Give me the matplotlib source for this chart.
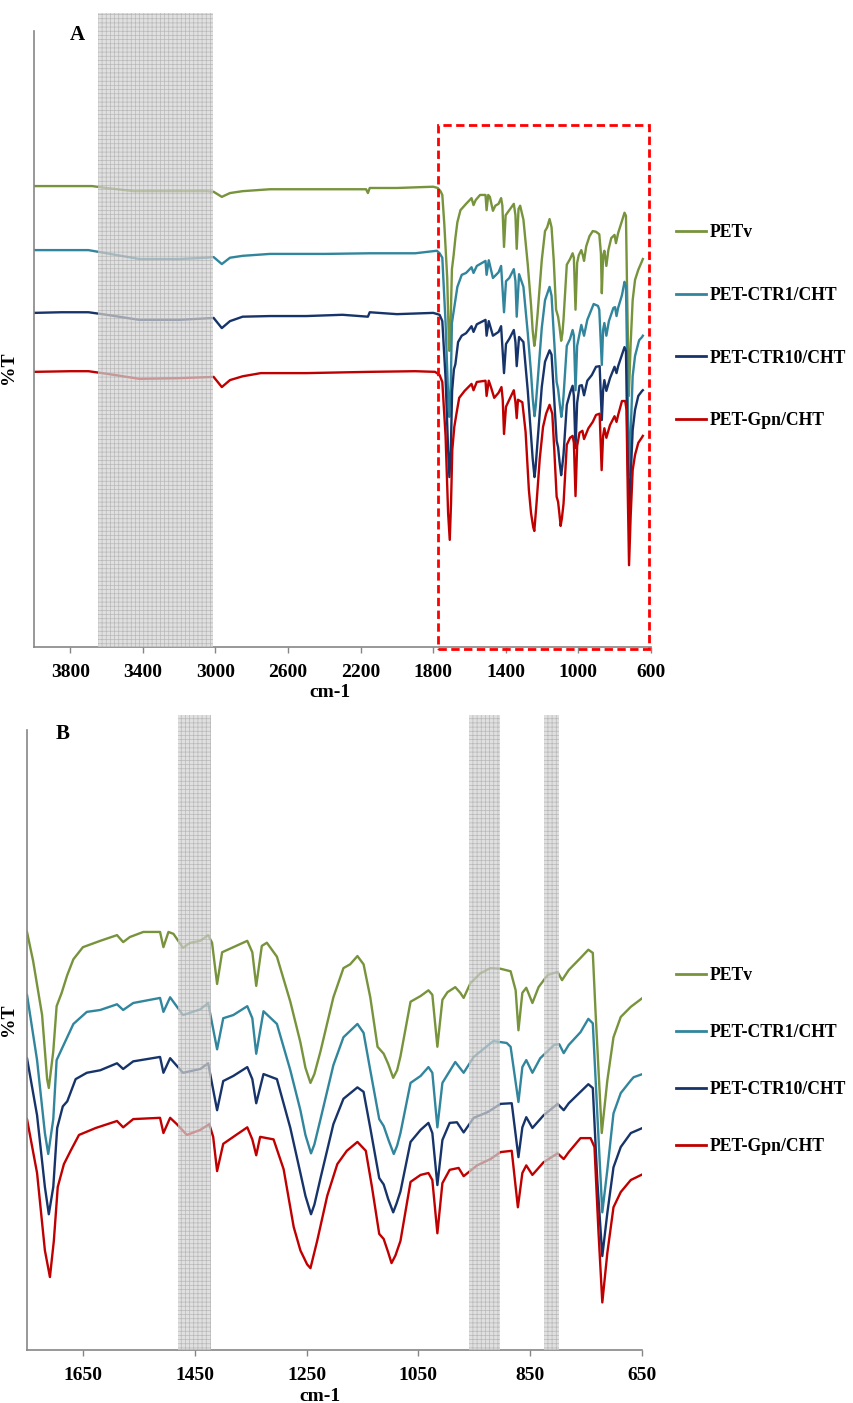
import matplotlib
matplotlib.use('Agg')
import matplotlib.pyplot as plt
from matplotlib.patches import Rectangle
from matplotlib.lines import Line2D

plt.rcParams['font.family'] = ['Liberation Serif', 'DejaVu Serif']
plt.rcParams['font.weight'] = 'bold'
plt.rcParams['hatch.linewidth'] = 0.5

# ---- FTIR spectra: (wavenumber cm-1, %T in offset units) ----
petv = [(4000, 72.7), (3800, 72.7), (3680, 72.7), (3600, 72.4), (3450, 71.9), (3300, 71.9), (3050, 71.9),
        (3010, 71.8), (2965, 71.0), (2920, 71.6), (2850, 71.9), (2700, 72.2), (2400, 72.2), (2170, 72.2),
        (2160, 71.6), (2150, 72.4), (2000, 72.4), (1800, 72.6), (1775, 72.4), (1760, 71.9), (1750, 71.3),
        (1739, 66.7), (1723, 58.2), (1714, 48.1), (1711, 46.7), (1703, 52.5), (1697, 59.6), (1688, 61.7),
        (1678, 64.5), (1667, 67.0), (1650, 68.9), (1619, 69.9), (1589, 70.8), (1578, 69.7), (1566, 70.5),
        (1542, 71.3), (1512, 71.3), (1506, 68.9), (1497, 71.3), (1488, 71.0), (1471, 68.8), (1458, 69.6),
        (1440, 69.9), (1426, 70.8), (1419, 69.6), (1410, 63.1), (1401, 68.1), (1381, 68.9), (1356, 69.9),
        (1347, 68.1), (1340, 62.8), (1330, 69.1), (1321, 69.6), (1303, 67.4), (1279, 60.3), (1261, 53.9),
        (1252, 49.9), (1243, 47.5), (1236, 48.9), (1225, 52.5), (1202, 61.0), (1184, 65.6), (1172, 66.2),
        (1159, 67.5), (1148, 66.2), (1136, 61.0), (1123, 53.2), (1112, 52.1), (1104, 50.5), (1095, 48.3),
        (1088, 49.5), (1082, 51.7), (1064, 60.3), (1046, 61.2), (1032, 62.1), (1025, 61.4), (1016, 53.2),
        (1007, 60.6), (998, 61.8), (984, 62.6), (975, 61.7), (969, 60.9), (957, 63.2), (939, 64.8),
        (921, 65.6), (903, 65.5), (885, 65.1), (876, 62.1), (871, 55.8), (864, 61.7), (857, 62.5),
        (846, 60.1), (835, 62.6), (819, 64.5), (801, 65.0), (793, 63.7), (781, 65.3), (760, 67.2),
        (746, 68.5), (738, 68.0), (733, 58.5), (722, 39.6), (712, 47.9), (701, 54.7), (688, 57.9),
        (670, 59.5), (649, 60.9), (645, 61.2)]

ctr1 = [(4000, 62.6), (3700, 62.6), (3600, 62.1), (3420, 61.2), (3200, 61.2), (3050, 61.4), (3010, 61.5),
        (2965, 60.4), (2920, 61.4), (2850, 61.7), (2700, 62.0), (2400, 62.0), (2150, 62.1), (1900, 62.1),
        (1780, 62.5), (1765, 62.1), (1750, 61.4), (1732, 51.1), (1718, 39.6), (1712, 36.3), (1703, 41.8),
        (1697, 51.1), (1686, 53.2), (1667, 56.8), (1643, 58.7), (1619, 59.0), (1589, 59.9), (1578, 59.0),
        (1560, 60.1), (1512, 60.9), (1506, 58.7), (1494, 61.0), (1471, 58.2), (1440, 59.1), (1426, 60.1),
        (1410, 52.8), (1399, 57.7), (1381, 58.2), (1356, 59.6), (1347, 57.7), (1340, 52.1), (1327, 58.8),
        (1303, 56.8), (1279, 49.5), (1261, 43.2), (1252, 39.3), (1242, 36.4), (1236, 37.8), (1225, 41.8),
        (1202, 50.3), (1184, 54.7), (1159, 56.8), (1148, 55.4), (1136, 49.5), (1120, 41.8), (1112, 40.7),
        (1103, 38.4), (1094, 36.3), (1088, 37.6), (1082, 39.6), (1064, 47.5), (1046, 48.6), (1032, 50.0),
        (1025, 49.1), (1016, 40.5), (1007, 47.5), (984, 50.8), (969, 49.1), (951, 51.6), (916, 54.1),
        (892, 53.8), (885, 53.2), (871, 44.5), (864, 50.0), (857, 51.1), (846, 49.1), (832, 51.4),
        (807, 53.5), (798, 53.6), (790, 52.2), (781, 53.5), (760, 55.5), (746, 57.6), (738, 56.9),
        (730, 42.7), (721, 27.1), (712, 33.8), (701, 42.7), (688, 45.9), (670, 47.9), (665, 48.4),
        (649, 48.9), (645, 49.1)]

ctr10 = [(4000, 52.7), (3850, 52.8), (3700, 52.8), (3600, 52.4), (3420, 51.6), (3200, 51.6), (3010, 51.9),
         (2965, 50.3), (2920, 51.4), (2850, 52.1), (2700, 52.2), (2500, 52.2), (2300, 52.4), (2160, 52.1),
         (2150, 52.8), (2000, 52.5), (1800, 52.7), (1765, 52.4), (1750, 51.4), (1732, 42.4), (1718, 31.1),
         (1711, 26.8), (1703, 31.1), (1696, 40.4), (1686, 43.8), (1678, 44.6), (1663, 48.1), (1643, 49.1),
         (1619, 49.5), (1589, 50.6), (1578, 49.7), (1560, 50.9), (1512, 51.6), (1506, 49.1), (1494, 51.4),
         (1471, 49.1), (1440, 49.7), (1426, 50.6), (1410, 43.2), (1399, 47.8), (1381, 48.6), (1356, 50.0),
         (1347, 48.1), (1340, 44.3), (1327, 48.9), (1303, 48.1), (1279, 40.4), (1261, 33.3), (1252, 29.7),
         (1242, 26.8), (1236, 28.3), (1225, 32.5), (1202, 41.0), (1184, 45.0), (1159, 46.8), (1148, 46.1),
         (1136, 40.4), (1120, 32.5), (1112, 31.5), (1104, 29.2), (1095, 27.1), (1089, 28.5), (1082, 30.4),
         (1064, 38.2), (1046, 40.1), (1032, 41.2), (1025, 39.6), (1016, 31.4), (1007, 38.5), (994, 41.2),
         (981, 41.3), (969, 39.7), (951, 42.0), (926, 42.9), (903, 44.2), (883, 44.3), (871, 35.8),
         (864, 40.5), (857, 42.1), (846, 40.4), (826, 42.4), (801, 44.2), (790, 43.2), (781, 44.3),
         (760, 46.1), (746, 47.3), (738, 46.7), (730, 32.2), (721, 20.2), (712, 27.0), (701, 34.2),
         (688, 37.4), (670, 39.6), (649, 40.4), (645, 40.5)]

gpn = [(4000, 43.4), (3800, 43.5), (3700, 43.5), (3600, 43.1), (3420, 42.3), (3200, 42.4), (3010, 42.6),
       (2965, 41.0), (2920, 42.1), (2850, 42.7), (2750, 43.2), (2500, 43.2), (2150, 43.4), (1900, 43.5),
       (1790, 43.4), (1765, 42.9), (1750, 41.8), (1732, 33.3), (1718, 21.1), (1709, 16.9), (1702, 22.6),
       (1695, 31.1), (1684, 34.7), (1672, 36.8), (1657, 39.3), (1627, 40.4), (1589, 41.5), (1578, 40.5),
       (1560, 41.8), (1512, 42.0), (1506, 39.6), (1494, 42.0), (1482, 41.0), (1464, 39.3), (1440, 40.1),
       (1424, 41.0), (1417, 39.0), (1410, 33.6), (1399, 37.9), (1376, 39.3), (1356, 40.5), (1347, 38.6),
       (1340, 36.1), (1333, 39.0), (1309, 38.6), (1291, 33.9), (1273, 24.8), (1261, 21.1), (1249, 18.9),
       (1243, 18.3), (1231, 22.6), (1213, 29.7), (1195, 34.7), (1178, 36.8), (1159, 38.2), (1144, 36.8),
       (1133, 31.1), (1120, 23.7), (1112, 22.9), (1104, 20.8), (1098, 19.1), (1091, 20.3), (1082, 22.6),
       (1064, 31.9), (1046, 33.0), (1032, 33.3), (1025, 32.2), (1016, 23.8), (1007, 31.7), (994, 33.8),
       (978, 34.1), (969, 32.8), (945, 34.5), (921, 35.5), (903, 36.6), (883, 36.8), (872, 27.9),
       (864, 33.3), (857, 34.5), (846, 33.0), (826, 35.0), (801, 36.4), (790, 35.5), (781, 36.6),
       (760, 38.8), (742, 38.8), (735, 37.4), (728, 24.3), (721, 12.9), (712, 20.7), (701, 27.9),
       (688, 30.3), (670, 32.2), (649, 33.1), (645, 33.3)]

names = ['PETv', 'PET-CTR1/CHT', 'PET-CTR10/CHT', 'PET-Gpn/CHT']
colors = ['#77933C', '#31859C', '#17346A', '#C00000']

# highlighted regions (cm-1)
bands_A = [(3650, 3015)]
bands_B = [(1480, 1421), (960, 904), (826, 799)]
zoom_box = (1774, 612)

fig = plt.figure(figsize=(8.54, 14.03), dpi=100)
axA = fig.add_axes([34/854, 1-647/1403, 617/854, 634/1403])
axB = fig.add_axes([27/854, 1-1350/1403, 615/854, 635/1403])


def style(ax, xlim, ylim, ticks, spine_top):
    ax.set_xlim(*xlim)
    ax.set_ylim(*ylim)
    ax.set_xticks(ticks)
    ax.set_yticks([])
    for s in ['top', 'right']:
        ax.spines[s].set_visible(False)
    for s in ['left', 'bottom']:
        ax.spines[s].set_color('#868686')
        ax.spines[s].set_linewidth(1.2)
    ax.spines['left'].set_bounds(ylim[0], spine_top)
    ax.tick_params(axis='x', direction='out', length=4, width=1, color='#868686',
                   labelsize=14, pad=8)
    for lab in ax.get_xticklabels():
        lab.set_fontweight('bold')
    ax.set_xlabel('cm-1', fontsize=14, fontweight='bold')
    ax.set_ylabel('%T', fontsize=14, fontweight='bold')


for ax in [axA, axB]:
    for data, name, c in zip([petv, ctr1, ctr10, gpn], names, colors):
        wn = [p[0] for p in data]
        t = [p[1] for p in data]
        ax.plot(wn, t, color=c, lw=1.7, label=name, zorder=2)

for x0, x1 in bands_A:
    axA.axvspan(x0, x1, facecolor='#d4d4d4', edgecolor='#a8a8a8', hatch='++++', lw=0, alpha=0.7, zorder=3)
for x0, x1 in bands_B:
    axB.axvspan(x0, x1, facecolor='#d4d4d4', edgecolor='#a8a8a8', hatch='++++', lw=0, alpha=0.7, zorder=3)

style(axA, (4000, 600), (0, 100), [3800, 3400, 3000, 2600, 2200, 1800, 1400, 1000, 600], 97.2)
style(axB, (1750, 650), (5.4, 105.5), [1650, 1450, 1250, 1050, 850, 650], 103.2)

axA.xaxis.set_label_coords(0.48, -0.058)
axB.xaxis.set_label_coords(0.477, -0.06)
axA.yaxis.set_label_coords(-0.027, 0.44)
axB.yaxis.set_label_coords(-0.017, 0.52)

rect = Rectangle((zoom_box[0], -0.3), zoom_box[1] - zoom_box[0], 82.6, fill=False,
                 edgecolor='#FF0000', lw=2.0, linestyle=(0, (3, 1.6)), clip_on=False, zorder=4)
axA.add_patch(rect)

axA.text(0.07, 0.965, 'A', transform=axA.transAxes, fontsize=15, fontweight='bold', ha='center', va='center')
axB.text(0.058, 0.97, 'B', transform=axB.transAxes, fontsize=15, fontweight='bold', ha='center', va='center')

handles = [Line2D([0], [0], color=c, lw=2) for c in colors]
fig.legend(handles, names, loc='upper left', bbox_to_anchor=(667/854, 1-215/1403),
           frameon=False, handlelength=1.7, handletextpad=0.23,
           labelspacing=2.6, borderpad=0, prop={'weight': 'bold', 'size': 12.7})
fig.legend(handles, names, loc='upper left', bbox_to_anchor=(667/854, 1-958/1403),
           frameon=False, handlelength=1.7, handletextpad=0.23,
           labelspacing=2.28, borderpad=0, prop={'weight': 'bold', 'size': 12.7})

fig.savefig('out.png', dpi=100)
